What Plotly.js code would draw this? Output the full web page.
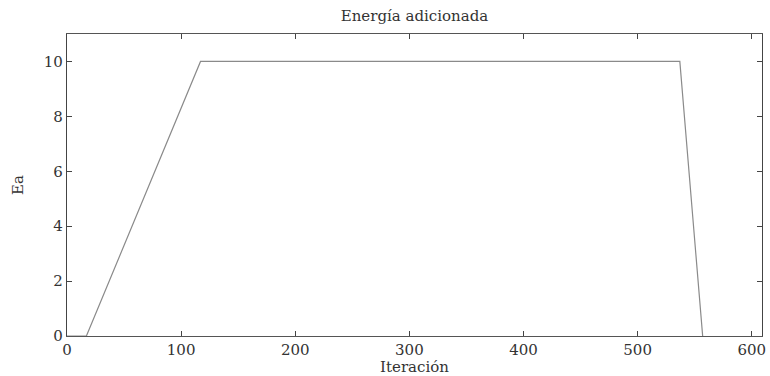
<!DOCTYPE html>
<html>
<head>
<meta charset="utf-8">
<script src="https://cdn.plot.ly/plotly-3.0.1.min.js"></script>
<style>html,body{margin:0;padding:0;background:#fff;}#chart{width:770px;height:376px;}</style>
</head>
<body>
<div id="chart"></div>
<script>
const iteracion = [0, 17, 117, 537, 557];
const energia = [0, 0, 10, 10, 0];
const xTicks = [0, 100, 200, 300, 400, 500, 600];
const yTicks = [0, 2, 4, 6, 8, 10];

const font = {family: 'DejaVu Serif, serif', size: 15, color: '#333'};

Plotly.newPlot('chart', [{
  x: iteracion, y: energia, type: 'scatter', mode: 'lines',
  line: {color: '#8a8a8a', width: 1.2}, cliponaxis: false, hoverinfo: 'none'
}], {
  width: 770, height: 376,
  margin: {l: 67, r: 8, t: 34, b: 40},
  paper_bgcolor: '#fff', plot_bgcolor: '#fff',
  font: font,
  showlegend: false,
  title: {text: 'Energía adicionada', font: {family: font.family, size: 15, color: '#333'}, x: 0.5, xref: 'paper', xanchor: 'center', y: 0.957, yanchor: 'middle'},
  xaxis: {
    range: [0, 609], tickvals: xTicks, ticktext: xTicks.map(String),
    ticks: 'inside', ticklen: 5, tickcolor: '#444', tickwidth: 1,
    showline: true, linecolor: '#555', linewidth: 1.2, mirror: 'ticks',
    showgrid: false, zeroline: false,
    tickfont: font,
    title: {text: 'Iteración', font: font, standoff: 0}
  },
  yaxis: {
    range: [0, 11], tickvals: yTicks, ticktext: yTicks.map(String),
    ticks: 'inside', ticklen: 5, tickcolor: '#444', tickwidth: 1,
    showline: true, linecolor: '#444', linewidth: 1.2, mirror: 'ticks',
    showgrid: false, zeroline: false,
    tickfont: font,
    title: {text: 'Ea', font: font, standoff: 16}
  }
}, {staticPlot: true});
</script>
</body>
</html>
